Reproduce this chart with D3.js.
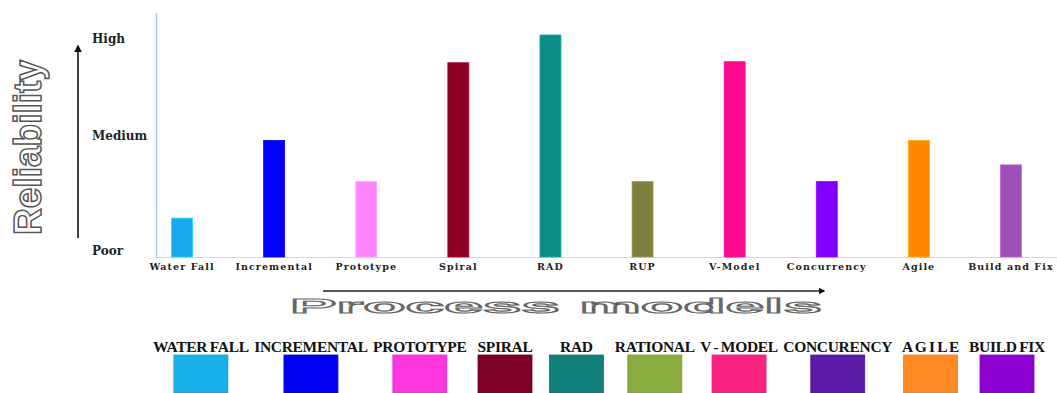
<!DOCTYPE html>
<html>
<head>
<meta charset="utf-8">
<script src="https://cdn.jsdelivr.net/npm/d3@7"></script>
<style>
  html, body { margin: 0; padding: 0; background: #fff; }
  svg { display: block; }
</style>
</head>
<body>
<svg id="chart" width="1057" height="393"></svg>
<script>
// Process models and their relative reliability (0 = poor, 10 = high)
const models = ["Water Fall", "Incremental", "Prototype", "Spiral", "RAD",
                "RUP", "V-Model", "Concurrency", "Agile", "Build and Fix"];
const reliability = [1.75, 5.25, 3.4, 8.75, 10, 3.4, 8.8, 3.4, 5.25, 4.15];
const barColors = ["#17a8ee", "#0000ff", "#ff85ff", "#8b0022", "#0b8a86",
                   "#80803e", "#ff0a8c", "#8000ff", "#ff8800", "#9c4fb4"];

// Qualitative tick labels on the reliability axis
const tickLabels = ["Poor", "Medium", "High"];
const tickValues = [0.3, 5.45, 9.85];

// Legend entries
const legendLabels = ["WATER FALL", "INCREMENTAL", "PROTOTYPE", "SPIRAL", "RAD",
                      "RATIONAL", "V - MODEL", "CONCURENCY", "A G I L E", "BUILD FIX"];
const legendColors = ["#19b0ec", "#0202f2", "#fd35de", "#7e0024", "#12807a",
                      "#8aad3f", "#fa2382", "#5c1ba8", "#ff8a26", "#8d02d2"];

const svg = d3.select("#chart");

const x = d3.scaleBand()
  .domain(models)
  .range([136, 1057])
  .paddingInner(0.772)
  .paddingOuter(0.386);

const y = d3.scaleLinear()
  .domain([0, 10])
  .range([257, 35]);

// baseline and vertical axis line
svg.append("line")
  .attr("x1", 156).attr("x2", 1057)
  .attr("y1", y(0) + 0.5).attr("y2", y(0) + 0.5)
  .attr("stroke", "#d6d6d6").attr("stroke-width", 1.2);
svg.append("line")
  .attr("x1", 156.5).attr("x2", 156.5)
  .attr("y1", 13).attr("y2", y(0) + 1)
  .attr("stroke", "#a9c7d6").attr("stroke-width", 1.5);

// bars
svg.append("g")
  .selectAll("rect")
  .data(models)
  .join("rect")
  .attr("x", d => x(d))
  .attr("width", x.bandwidth())
  .attr("y", (d, i) => y(reliability[i]))
  .attr("height", (d, i) => y(0) - y(reliability[i]))
  .attr("fill", (d, i) => barColors[i])
  .attr("stroke", (d, i) => d3.color(barColors[i]).brighter(0.7))
  .attr("stroke-width", 0.8);

// category labels
const xAxis = d3.axisBottom(x).tickSize(0).tickPadding(0);
const gx = svg.append("g")
  .attr("transform", `translate(0,${y(0)})`)
  .call(xAxis);
gx.select(".domain").remove();
gx.selectAll("text")
  .attr("dy", 13)
  .attr("fill", "#222")
  .style("font-family", "'DejaVu Serif', serif")
  .style("font-weight", "bold")
  .style("font-size", "9.5px")
  .style("letter-spacing", "1.1px");

// qualitative y tick labels
svg.append("g")
  .selectAll("text")
  .data(tickLabels)
  .join("text")
  .attr("x", 92)
  .attr("y", (d, i) => y(tickValues[i]))
  .attr("dy", "0.35em")
  .attr("fill", "#222")
  .style("font-family", "'DejaVu Serif', serif")
  .style("font-weight", "bold")
  .style("font-size", "12px")
  .text(d => d);

// arrows
const defs = svg.append("defs");
defs.append("marker")
  .attr("id", "arrowHead")
  .attr("viewBox", "0 0 10 10")
  .attr("refX", 8).attr("refY", 5)
  .attr("markerWidth", 5).attr("markerHeight", 5)
  .attr("orient", "auto")
  .append("path")
  .attr("d", "M0,0 L10,5 L0,10 z")
  .attr("fill", "#111");

svg.append("line")
  .attr("x1", 78).attr("x2", 78)
  .attr("y1", 238).attr("y2", 46)
  .attr("stroke", "#111").attr("stroke-width", 1.6)
  .attr("marker-end", "url(#arrowHead)");

svg.append("line")
  .attr("x1", 323).attr("x2", 824)
  .attr("y1", 291).attr("y2", 291)
  .attr("stroke", "#222").attr("stroke-width", 1.3)
  .attr("marker-end", "url(#arrowHead)");

// hollow axis titles
svg.append("text")
  .attr("transform", "translate(41,235) rotate(-90)")
  .attr("textLength", 175)
  .attr("lengthAdjust", "spacingAndGlyphs")
  .attr("fill", "#fff")
  .attr("stroke", "#555")
  .attr("stroke-width", 1.5)
  .style("font-family", "'Liberation Sans', Arial, sans-serif")
  .style("font-weight", "bold")
  .style("font-size", "39px")
  .text("Reliability");

svg.append("text")
  .attr("x", 290).attr("y", 313)
  .attr("textLength", 532)
  .attr("lengthAdjust", "spacingAndGlyphs")
  .attr("fill", "#fff")
  .attr("stroke", "#666")
  .attr("stroke-width", 1.1)
  .style("font-family", "'Liberation Sans', Arial, sans-serif")
  .style("font-weight", "bold")
  .style("font-size", "21px")
  .text("Process models");

// legend: labels flow across the strip from 153 to 1045,
// each swatch centred under its label
const legend = svg.append("g");
const legendLeft = 153, legendRight = 1045, swatchW = 54, minSlot = 66;
const texts = legendLabels.map(label => legend.append("text")
  .attr("y", 352)
  .attr("fill", "#111")
  .attr("text-anchor", "middle")
  .style("font-family", "'Liberation Serif', 'Times New Roman', serif")
  .style("font-weight", "bold")
  .style("font-size", "15.5px")
  .style("letter-spacing", "-0.3px")
  .style("word-spacing", "-1px")
  .text(label));
const slots = texts.map(t => Math.max(t.node().getComputedTextLength(), minSlot));
const gap = (legendRight - legendLeft - d3.sum(slots)) / (slots.length - 1);
let cursor = legendLeft;
texts.forEach((t, i) => {
  const cx = cursor + slots[i] / 2;
  t.attr("x", cx);
  legend.append("rect")
    .attr("x", cx - swatchW / 2).attr("y", 355)
    .attr("width", swatchW).attr("height", 38)
    .attr("fill", legendColors[i])
    .attr("stroke", d3.color(legendColors[i]).darker(0.3))
    .attr("stroke-width", 0.8);
  cursor += slots[i] + gap;
});
</script>
</body>
</html>
